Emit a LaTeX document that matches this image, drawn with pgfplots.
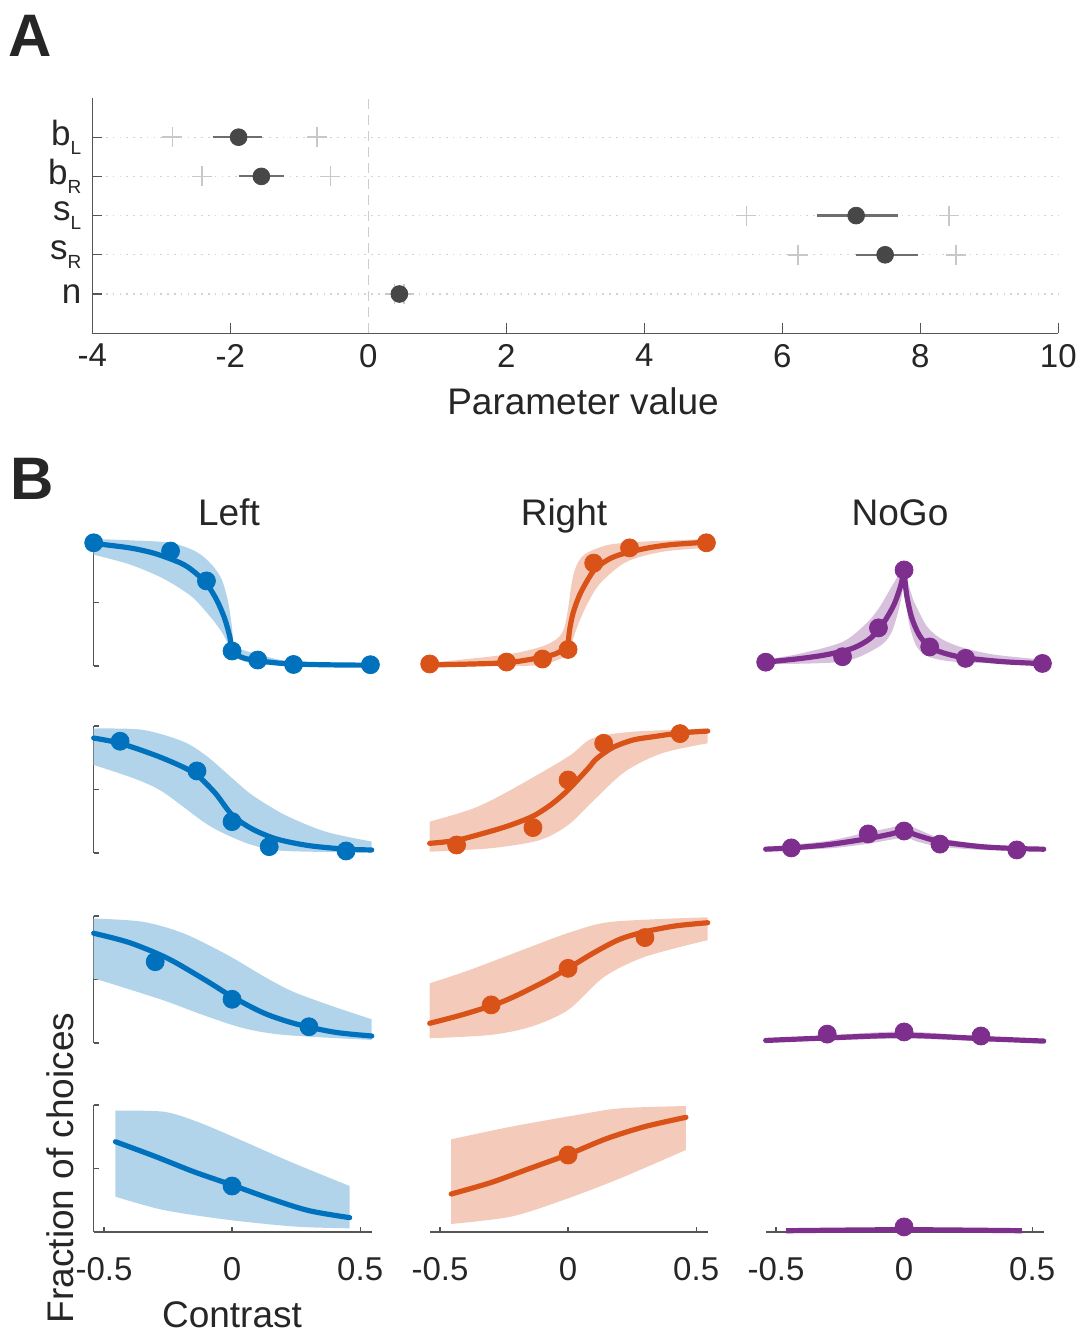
\documentclass[border=0pt]{standalone}
\usepackage{fontspec}
\setmainfont{Liberation Sans}
\usepackage{pgfplots}
\pgfplotsset{compat=1.18}
\definecolor{mblue}{HTML}{0072BD}
\definecolor{mblueL}{RGB}{178,212,235}
\definecolor{mred}{HTML}{D95319}
\definecolor{mredL}{RGB}{244,203,186}
\definecolor{mpur}{HTML}{7E2F8E}
\definecolor{mpurL}{RGB}{216,193,221}
\definecolor{axgray}{HTML}{555555}
\definecolor{txtgray}{HTML}{262626}
\definecolor{dotgray}{HTML}{474747}
\definecolor{errgray}{HTML}{6E6E6E}
\definecolor{crossgray}{HTML}{C8C8C8}
\newcommand{\ticksz}{\fontsize{16.5}{19}\selectfont}
\newcommand{\labsz}{\fontsize{18.5}{22}\selectfont}
\newcommand{\sbs}[1]{\raisebox{-4.7pt}{\fontsize{9.5}{10}\selectfont #1}}
\pgfplotsset{
  bbase/.style={scale only axis, width=139pt, height=63.5pt,
    xmin=-0.54, xmax=0.545, ymin=0, ymax=1, clip=false, anchor=south west},
  bfin/.style={axis line style={axgray, line width=0.6pt, -},
    tick style={axgray, line width=0.6pt}, major tick length=2.5pt,
    tick align=inside, ticklabel style={font=\ticksz, text=txtgray},
    xticklabel style={yshift=-9pt}},
  bleft/.style={bbase, axis x line=none, axis y line*=left,
    ytick={0,0.5,1}, yticklabels={}, xtick=\empty, bfin},
  bleftbot/.style={bbase, axis x line*=bottom, axis y line*=left,
    ytick={0,0.5,1}, yticklabels={}, xtick={-0.5,0,0.5},
    xticklabels={-0.5,0,0.5}, bfin},
  bnone/.style={bbase, hide axis},
  bbot/.style={bbase, axis x line*=bottom, axis y line=none, ytick=\empty,
    xtick={-0.5,0,0.5}, xticklabels={-0.5,0,0.5}, bfin},
  bline/.style={line width=2.6pt, line join=round, line cap=round, smooth, tension=0.5},
  bdots/.style={only marks, mark=*, mark size=4.5pt},
  bnd/.style={draw=none, smooth, tension=0.5},
}
\begin{document}
\begin{tikzpicture}
\useasboundingbox (0,0) rectangle (541pt,666.5pt);

% ---------------- Panel A ----------------
\begin{axis}[scale only axis, width=483pt, height=117.6pt,
  at={(46.15pt,499.9pt)}, anchor=south west,
  xmin=-4, xmax=10, ymin=0, ymax=6, clip=false,
  axis lines*=left, axis line style={axgray, line width=0.6pt, -},
  tick style={axgray, line width=0.6pt}, major tick length=5pt, tick align=inside,
  xtick={-4,-2,0,2,4,6,8,10}, xticklabels={-4,-2,0,2,4,6,8,10},
  ytick={1,2,3,4,5},
  yticklabels={n, s\sbs{R}, s\sbs{L}, b\sbs{R}, b\sbs{L}},
  xticklabel style={font=\ticksz, text=txtgray, yshift=-2pt},
  yticklabel style={font=\fontsize{17.5}{20}\selectfont, text=txtgray, xshift=-2pt},
  ymajorgrids=true,
  grid style={gray!35, line width=0.6pt, dash pattern=on 0.8pt off 2.6pt},
]
\addplot[gray!40, line width=0.8pt, dash pattern=on 5pt off 3pt] coordinates {(0,0) (0,6)};
\addplot[only marks, mark=+, mark size=5pt, crossgray, line width=0.8pt] coordinates {
 (-2.84,5) (-0.74,5) (-2.41,4) (-0.55,4) (5.48,3) (8.42,3) (6.23,2) (8.52,2) (0.38,1) (0.52,1)};
\addplot[errgray, line width=1.1pt, unbounded coords=jump] coordinates {
 (-2.25,5) (-1.54,5) (nan,nan) (-1.87,4) (-1.22,4) (nan,nan)
 (6.51,3) (7.67,3) (nan,nan) (7.07,2) (7.96,2) (nan,nan) (0.31,1) (0.59,1)};
\addplot[only marks, mark=*, mark size=4.2pt, dotgray] coordinates {
 (-1.88,5) (-1.55,4) (7.07,3) (7.49,2) (0.45,1)};
\end{axis}
\node[anchor=base, font=\labsz, text=txtgray] at (291.5pt,459pt) {Parameter value};
\node[anchor=north west, inner sep=0pt, font=\bfseries\fontsize{30}{30}\selectfont, text=txtgray] at (4pt,659pt) {A};
\node[anchor=north west, inner sep=0pt, font=\bfseries\fontsize{30}{30}\selectfont, text=txtgray] at (5pt,437.5pt) {B};

% ---------------- Panel B titles ----------------
\node[anchor=base, font=\labsz, text=txtgray] at (114.5pt,403.5pt) {Left};
\node[anchor=base, font=\labsz, text=txtgray] at (282pt,403.5pt) {Right};
\node[anchor=base, font=\labsz, text=txtgray] at (450pt,403.5pt) {NoGo};

% ======== Row 1 ========
\begin{axis}[bleft, at={(46.85pt,333.5pt)}]
\addplot[bnd, fill=mblueL] coordinates {
 (-0.54,1.0) (-0.4,0.99) (-0.24,0.97) (-0.14,0.9) (-0.08,0.8) (-0.04,0.68) (-0.015,0.5) (0,0.3)}
 -- plot[smooth, tension=0.5] coordinates {
 (0,0.3) (0.008,0.17) (0.03,0.135) (0.06,0.115) (0.13,0.076) (0.24,0.035) (0.545,0.02)}
 -- plot[smooth, tension=0.5] coordinates {
 (0.545,0.0) (0.2,0.005) (0.1,0.015) (0.05,0.035) (0.02,0.06) (0,0.1)}
 -- plot[smooth, tension=0.5] coordinates {
 (0,0.1) (-0.035,0.25) (-0.086,0.39) (-0.16,0.55) (-0.27,0.69) (-0.4,0.8) (-0.54,0.876)} -- cycle;
\addplot[mblue, bline] coordinates {
 (-0.54,0.965) (-0.4,0.93) (-0.3,0.885) (-0.2,0.81) (-0.15,0.745) (-0.1,0.65) (-0.06,0.52)
 (-0.03,0.38) (-0.01,0.24) (0,0.12)}
 -- plot[smooth, tension=0.5] coordinates {
 (0,0.12) (0.02,0.085) (0.05,0.06) (0.1,0.042) (0.2,0.02) (0.35,0.01) (0.545,0.006)};
\addplot[mblue, bdots] coordinates {
 (-0.54,0.97) (-0.24,0.905) (-0.1,0.67) (0,0.118) (0.1,0.047) (0.24,0.012) (0.54,0.01)};
\end{axis}

\begin{axis}[bnone, at={(214.85pt,333.5pt)}]
\addplot[bnd, fill=mredL] coordinates {
 (-0.54,0.025) (-0.24,0.09) (-0.1,0.155) (-0.04,0.22) (-0.015,0.3) (0,0.45) (0.01,0.6)
 (0.021,0.72) (0.04,0.82) (0.073,0.89) (0.16,0.955) (0.3,0.98) (0.545,1.0)}
 -- plot[smooth, tension=0.5] coordinates {
 (0.545,0.93) (0.37,0.9) (0.228,0.82) (0.125,0.65) (0.073,0.48) (0.04,0.33) (0.021,0.22)
 (0.005,0.12) (-0.01,0.076) (-0.1,0.01) (-0.24,0.0) (-0.54,0.0)} -- cycle;
\addplot[mred, bline] coordinates {
 (-0.54,0.008) (-0.3,0.02) (-0.2,0.035) (-0.1,0.07) (-0.05,0.095) (0,0.145)}
 -- plot[smooth, tension=0.5] coordinates {
 (0,0.145) (0.005,0.27) (0.02,0.42) (0.05,0.58) (0.1,0.75) (0.15,0.83) (0.2,0.875)
 (0.3,0.925) (0.4,0.955) (0.545,0.975)};
\addplot[mred, bdots] coordinates {
 (-0.54,0.016) (-0.24,0.031) (-0.1,0.055) (0,0.13) (0.1,0.81) (0.24,0.93) (0.54,0.97)};
\end{axis}

\begin{axis}[bnone, at={(382.85pt,333.5pt)}]
\addplot[bnd, fill=mpurL] coordinates {
 (-0.54,0.05) (-0.4,0.1) (-0.24,0.19) (-0.15,0.33) (-0.1,0.45) (-0.05,0.62) (-0.02,0.72) (0,0.77)}
 -- plot[smooth, tension=0.5] coordinates {
 (0,0.77) (0.015,0.66) (0.036,0.52) (0.06,0.42) (0.09,0.31) (0.14,0.22) (0.22,0.15)
 (0.35,0.09) (0.545,0.05)}
 -- plot[smooth, tension=0.5] coordinates {
 (0.545,0.012) (0.22,0.03) (0.1,0.07) (0.05,0.15) (0.02,0.33) (0.005,0.55) (0,0.7)}
 -- plot[smooth, tension=0.5] coordinates {
 (0,0.7) (-0.005,0.6) (-0.02,0.45) (-0.05,0.26) (-0.1,0.15) (-0.24,0.034) (-0.54,0.015)} -- cycle;
\addplot[mpur, bline] coordinates {
 (-0.54,0.03) (-0.4,0.06) (-0.3,0.09) (-0.2,0.14) (-0.13,0.22) (-0.08,0.34) (-0.04,0.48)
 (-0.015,0.62) (0,0.75)}
 -- plot[smooth, tension=0.5] coordinates {
 (0,0.75) (0.01,0.56) (0.03,0.38) (0.06,0.24) (0.1,0.15) (0.15,0.105) (0.22,0.07) (0.3,0.05)
 (0.4,0.032) (0.545,0.018)};
\addplot[mpur, bdots] coordinates {
 (-0.54,0.03) (-0.24,0.073) (-0.1,0.3) (0,0.756) (0.1,0.15) (0.24,0.06) (0.54,0.02)};
\end{axis}

% ======== Row 2 ========
\begin{axis}[bleft, at={(46.85pt,240pt)}]
\addplot[bnd, fill=mblueL] coordinates {
 (-0.54,0.98) (-0.35,0.97) (-0.19,0.877) (-0.097,0.76) (0,0.59) (0.078,0.457) (0.206,0.30)
 (0.365,0.168) (0.545,0.09)}
 -- plot[smooth, tension=0.5] coordinates {
 (0.545,0.005) (0.206,0.016) (0.078,0.063) (-0.033,0.155) (-0.113,0.247) (-0.272,0.483)
 (-0.384,0.588) (-0.54,0.693)} -- cycle;
\addplot[mblue, bline] coordinates {
 (-0.54,0.905) (-0.437,0.864) (-0.3,0.77) (-0.2,0.685) (-0.137,0.614) (-0.065,0.47) (0,0.30)
 (0.078,0.19) (0.174,0.11) (0.3,0.058) (0.445,0.03) (0.545,0.024)};
\addplot[mblue, bdots] coordinates {
 (-0.437,0.88) (-0.137,0.646) (0,0.247) (0.145,0.05) (0.445,0.016)};
\end{axis}

\begin{axis}[bnone, at={(214.85pt,240pt)}]
\addplot[bnd, fill=mredL] coordinates {
 (-0.54,0.247) (-0.368,0.352) (-0.224,0.496) (0,0.758) (0.095,0.903) (0.254,0.955) (0.545,0.98)}
 -- plot[smooth, tension=0.5] coordinates {
 (0.545,0.864) (0.366,0.785) (0.222,0.64) (0.095,0.404) (0,0.22) (-0.113,0.10)
 (-0.304,0.037) (-0.54,0.01)} -- cycle;
\addplot[mred, bline] coordinates {
 (-0.54,0.076) (-0.435,0.1) (-0.304,0.17) (-0.224,0.22) (-0.137,0.29) (-0.065,0.383)
 (0,0.496) (0.079,0.667) (0.11,0.74) (0.174,0.83) (0.254,0.89) (0.334,0.916) (0.437,0.945)
 (0.545,0.96)};
\addplot[mred, bdots] coordinates {
 (-0.435,0.063) (-0.137,0.2) (0,0.575) (0.139,0.864) (0.437,0.94)};
\end{axis}

\begin{axis}[bnone, at={(382.85pt,240pt)}]
\addplot[bnd, fill=mpurL] coordinates {
 (-0.54,0.045) (-0.3,0.095) (-0.15,0.16) (-0.05,0.2) (0,0.23) (0.05,0.19) (0.14,0.12)
 (0.3,0.07) (0.545,0.04)}
 -- plot[smooth, tension=0.5] coordinates {
 (0.545,0.015) (0.3,0.025) (0.14,0.05) (0.05,0.09) (0,0.12) (-0.15,0.07) (-0.3,0.035)
 (-0.54,0.015)} -- cycle;
\addplot[mpur, bline] coordinates {
 (-0.54,0.03) (-0.44,0.04) (-0.3,0.065) (-0.15,0.11) (-0.05,0.15) (0,0.175) (0.05,0.14)
 (0.14,0.09) (0.3,0.05) (0.44,0.035) (0.545,0.03)};
\addplot[mpur, bdots] coordinates {
 (-0.44,0.04) (-0.14,0.15) (0,0.173) (0.14,0.07) (0.44,0.024)};
\end{axis}

% ======== Row 3 ========
\begin{axis}[bleft, at={(46.85pt,145pt)}]
\addplot[bnd, fill=mblueL] coordinates {
 (-0.54,0.98) (-0.35,0.955) (-0.19,0.864) (-0.018,0.693) (0.126,0.522) (0.238,0.404)
 (0.397,0.286) (0.545,0.187)}
 -- plot[smooth, tension=0.5] coordinates {
 (0.545,0.024) (0.206,0.063) (0.046,0.116) (-0.113,0.22) (-0.272,0.339) (-0.54,0.51)} -- cycle;
\addplot[mblue, bline] coordinates {
 (-0.54,0.864) (-0.4,0.79) (-0.25,0.665) (-0.1,0.49) (0,0.365) (0.126,0.234) (0.25,0.15)
 (0.4,0.085) (0.545,0.055)};
\addplot[mblue, bdots] coordinates {(-0.3,0.64) (0,0.344) (0.3,0.128)};
\end{axis}

\begin{axis}[bnone, at={(214.85pt,145pt)}]
\addplot[bnd, fill=mredL] coordinates {
 (-0.54,0.47) (-0.384,0.575) (-0.145,0.758) (0.015,0.876) (0.174,0.955) (0.545,0.99)}
 -- plot[smooth, tension=0.5] coordinates {
 (0.545,0.81) (0.302,0.68) (0.142,0.522) (0,0.26) (-0.145,0.128) (-0.304,0.063)
 (-0.54,0.037)} -- cycle;
\addplot[mred, bline] coordinates {
 (-0.54,0.155) (-0.4,0.23) (-0.25,0.33) (-0.1,0.475) (0,0.588) (0.1,0.71) (0.2,0.815)
 (0.3,0.876) (0.42,0.922) (0.545,0.947)};
\addplot[mred, bdots] coordinates {(-0.3,0.30) (0,0.588) (0.3,0.83)};
\end{axis}

\begin{axis}[bnone, at={(382.85pt,145pt)}]
\addplot[bnd, fill=mpurL] coordinates {(-0.54,0.03) (-0.3,0.06) (0,0.09) (0.3,0.05) (0.545,0.025)}
 -- plot[smooth, tension=0.5] coordinates {(0.545,0.005) (0.3,0.015) (0,0.035) (-0.3,0.02) (-0.54,0.008)} -- cycle;
\addplot[mpur, bline] coordinates {
 (-0.54,0.02) (-0.3,0.04) (0,0.06) (0.3,0.035) (0.545,0.015)};
\addplot[mpur, bdots] coordinates {(-0.3,0.07) (0,0.087) (0.3,0.055)};
\end{axis}

% ======== Row 4 ========
\begin{axis}[bleftbot, at={(46.85pt,50.5pt)}]
\addplot[bnd, fill=mblueL] coordinates {
 (-0.455,0.955) (-0.267,0.947) (-0.137,0.869) (0.018,0.738) (0.226,0.554) (0.459,0.362)}
 -- plot[smooth, tension=0.5] coordinates {
 (0.459,0.029) (0.252,0.042) (-0.008,0.094) (-0.267,0.173) (-0.455,0.278)} -- cycle;
\addplot[mblue, bline] coordinates {
 (-0.455,0.711) (-0.3,0.595) (-0.15,0.475) (0,0.37) (0.15,0.262) (0.3,0.168) (0.459,0.113)};
\addplot[mblue, bdots] coordinates {(0,0.362)};
\end{axis}

\begin{axis}[bbot, at={(214.85pt,50.5pt)}]
\addplot[bnd, fill=mredL] coordinates {
 (-0.456,0.73) (-0.223,0.829) (0.033,0.921) (0.204,0.974) (0.46,0.992)}
 -- plot[smooth, tension=0.5] coordinates {
 (0.46,0.646) (0.204,0.423) (-0.018,0.252) (-0.223,0.121) (-0.456,0.063)} -- cycle;
\addplot[mred, bline] coordinates {
 (-0.456,0.299) (-0.3,0.39) (-0.15,0.5) (0,0.61) (0.15,0.735) (0.3,0.83) (0.46,0.903)};
\addplot[mred, bdots] coordinates {(0,0.606)};
\end{axis}

\begin{axis}[bbot, at={(382.85pt,50.5pt)}]
\addplot[mpur, bline, line cap=butt] coordinates {(-0.46,0.01) (0,0.018) (0.46,0.01)};
\addplot[mpur, bdots] coordinates {(0,0.04)};
\end{axis}

\node[anchor=base, font=\labsz, text=txtgray] at (116pt,2.5pt) {Contrast};
\node[anchor=base, rotate=90, font=\labsz, text=txtgray] at (36.5pt,82.5pt) {Fraction of choices};
\end{tikzpicture}
\end{document}
